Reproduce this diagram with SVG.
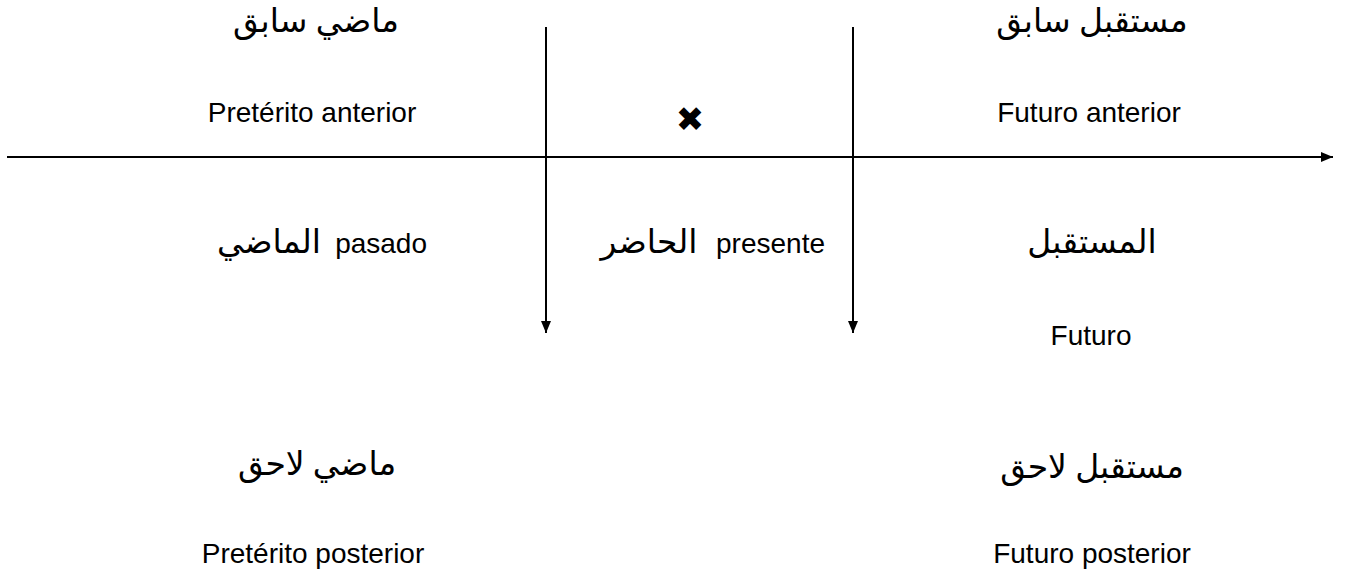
<svg xmlns="http://www.w3.org/2000/svg" width="1346" height="573" viewBox="0 0 1346 573">
<style>
.lat{font-family:"Liberation Sans",Arial,sans-serif;font-size:28px;fill:#000}
.ar{font-family:"Liberation Serif","DejaVu Serif","DejaVu Sans",serif;font-size:33px;fill:#000}
.ax{stroke:#000;stroke-width:2;fill:none}
</style>
<defs>
<marker id="ah" markerWidth="12" markerHeight="10" refX="12" refY="5" orient="auto" markerUnits="userSpaceOnUse">
<path d="M0,0 L12,5 L0,10 Z" fill="#000"/>
</marker>
</defs>
<rect width="1346" height="573" fill="#fff"/>
<g id="connectors">
<line class="ax" x1="7" y1="157" x2="1333" y2="157" marker-end="url(#ah)"/>
<line class="ax" x1="546" y1="27" x2="546" y2="333" marker-end="url(#ah)"/>
<line class="ax" x1="853" y1="27" x2="853" y2="333" marker-end="url(#ah)"/>
</g>
<g id="pret-anterior">
<text class="ar" x="316" y="32" text-anchor="middle" direction="rtl">ماضي سابق</text>
<text class="lat" x="312" y="122" text-anchor="middle">Pretérito anterior</text>
</g>
<g id="fut-anterior">
<text class="ar" x="1092" y="32" text-anchor="middle" direction="rtl">مستقبل سابق</text>
<text class="lat" x="1089" y="122" text-anchor="middle">Futuro anterior</text>
</g>
<g id="mark">
<text x="690" y="131" text-anchor="middle" style="font-family:'DejaVu Sans',sans-serif;font-size:34px">✖</text>
</g>
<g id="pasado">
<text class="ar" x="269" y="253" text-anchor="middle">الماضي</text>
<text class="lat" x="427" y="253" text-anchor="end">pasado</text>
</g>
<g id="presente">
<text class="ar" x="649" y="253" text-anchor="middle">الحاضر</text>
<text class="lat" x="825" y="253" text-anchor="end">presente</text>
</g>
<g id="futuro">
<text class="ar" x="1092" y="253" text-anchor="middle">المستقبل</text>
<text class="lat" x="1091" y="345" text-anchor="middle">Futuro</text>
</g>
<g id="pret-posterior">
<text class="ar" x="317" y="475" text-anchor="middle" direction="rtl">ماضي لاحق</text>
<text class="lat" x="313" y="563" text-anchor="middle">Pretérito posterior</text>
</g>
<g id="fut-posterior">
<text class="ar" x="1092" y="478" text-anchor="middle" direction="rtl">مستقبل لاحق</text>
<text class="lat" x="1092" y="563" text-anchor="middle">Futuro posterior</text>
</g>
</svg>
